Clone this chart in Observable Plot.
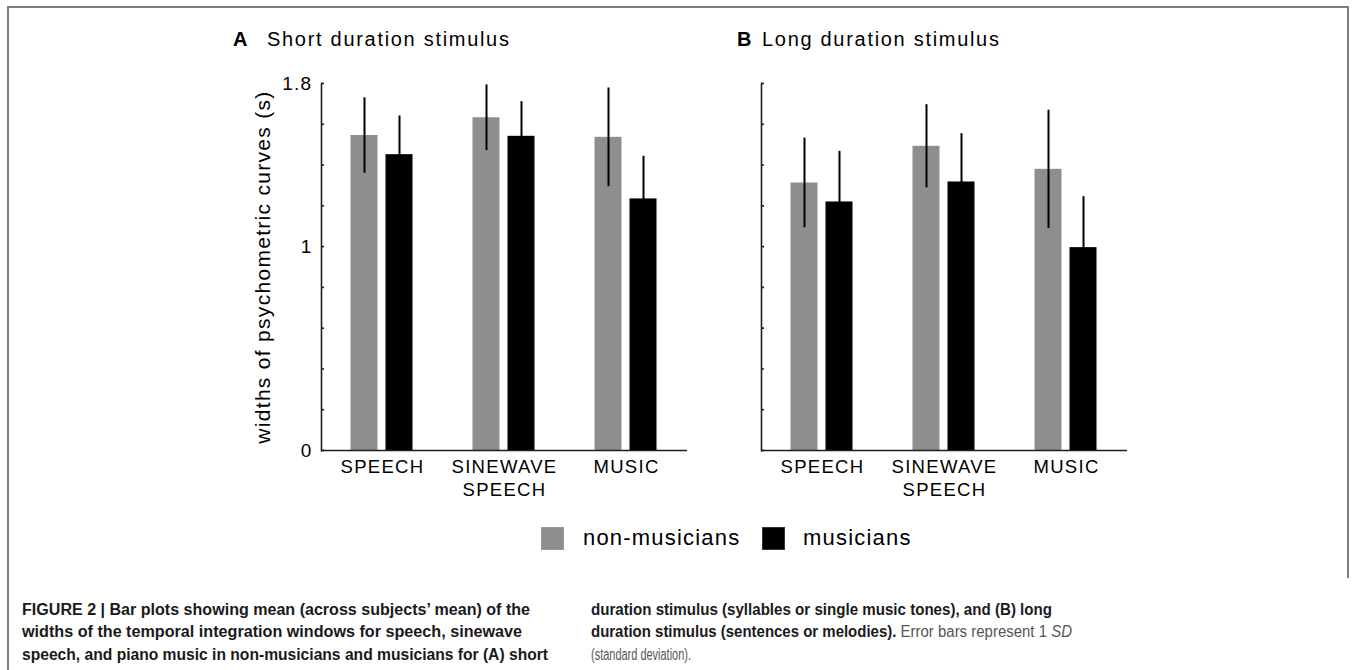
<!DOCTYPE html>
<html>
<head>
<meta charset="utf-8">
<script src="https://cdn.jsdelivr.net/npm/d3@7"></script>
<script src="https://cdn.jsdelivr.net/npm/@observablehq/plot@0.6"></script>
<style>
  body { margin: 0; background: #fff; }
  #page { position: relative; width: 1355px; height: 670px; overflow: hidden; background: #fff;
          font-family: "Liberation Sans", Arial, Helvetica, sans-serif; color: #000; }
  .abs { position: absolute; white-space: nowrap; line-height: 1; }
  .title { font-size: 20px; letter-spacing: 1.7px; }
  .title b { letter-spacing: 0; }
  .legtxt { font-size: 22px; letter-spacing: 1.2px; }
  .sw { position: absolute; width: 23px; height: 23px; box-sizing: border-box; }
  .cap { position: absolute; white-space: nowrap; font-family: "Liberation Sans Narrow", "Liberation Sans", Arial, sans-serif;
         font-size: 16px; line-height: 1; color: #1a1a1a; transform-origin: 0 0; }
  .cap b { font-weight: bold; }
  .cap .n { font-weight: normal; color: #555; }
  .border { position: absolute; background: #7d7d7d; }
</style>
</head>
<body>
<div id="page">
  <div class="border" style="left:7px;top:6px;width:1342px;height:2px"></div>
  <div class="border" style="left:7px;top:6px;width:2px;height:664px"></div>
  <div class="border" style="left:1347px;top:6px;width:2px;height:572px"></div>

  <div class="abs title" style="left:233px;top:29px"><b>A</b></div>
  <div class="abs title" style="left:267px;top:29px">Short duration stimulus</div>
  <div class="abs title" style="left:737px;top:29px"><b>B</b></div>
  <div class="abs title" style="left:762px;top:29px">Long duration stimulus</div>

  <div id="panelA" style="position:absolute;left:0;top:0"></div>
  <div id="panelB" style="position:absolute;left:440px;top:0"></div>

  <div id="legend"></div>

  <div class="cap" data-w="508" style="left:22px;top:602px"><b>FIGURE 2 | Bar plots showing mean (across subjects’ mean) of the</b></div>
  <div class="cap" data-w="500" style="left:22px;top:624px"><b>widths of the temporal integration windows for speech, sinewave</b></div>
  <div class="cap" data-w="526" style="left:22px;top:647px"><b>speech, and piano music in non-musicians and musicians for (A) short</b></div>
  <div class="cap" data-w="461" style="left:591px;top:602px"><b>duration stimulus (syllables or single music tones), and (B) long</b></div>
  <div class="cap" data-w="481" style="left:591px;top:624px"><b>duration stimulus (sentences or melodies).</b><span class="n"> Error bars represent 1 <i>SD</i></span></div>
  <div class="cap" data-w="100" style="left:591px;top:647px"><span class="n">(standard deviation).</span></div>
</div>
<script>
// ---- data ----
const categories = ["SPEECH", "SINEWAVE\nSPEECH", "MUSIC"];
const groups = ["non-musicians", "musicians"];
const groupColors = ["#8e8e8e", "#000000"];

// A: short duration stimulus
const shortNonMean = [1.545, 1.632, 1.536];
const shortNonSD   = [0.185, 0.161, 0.242];
const shortMusMean = [1.451, 1.541, 1.234];
const shortMusSD   = [0.190, 0.170, 0.209];

// B: long duration stimulus
const longNonMean = [1.312, 1.492, 1.379];
const longNonSD   = [0.220, 0.204, 0.290];
const longMusMean = [1.219, 1.317, 0.995];
const longMusSD   = [0.248, 0.237, 0.250];

const yDomain = [0, 1.8];
const yTicks = [0, 0.2, 0.4, 0.6, 0.8, 1, 1.2, 1.4, 1.6, 1.8];
const yTickLabels = [0, 1, 1.8];
const yLabel = "widths of psychometric curves (s)";

function rowsFor(nonMean, nonSD, musMean, musSD) {
  return categories.flatMap((c, i) => [
    {category: c, group: groups[0], mean: nonMean[i], sd: nonSD[i]},
    {category: c, group: groups[1], mean: musMean[i], sd: musSD[i]}
  ]);
}

function panel(rows, withLabels) {
  const marks = [
    Plot.barY(rows, {fx: "category", x: "group", y: "mean", fill: "group"}),
    Plot.ruleX(rows, {fx: "category", x: "group", y1: d => d.mean - d.sd, y2: d => d.mean + d.sd, stroke: "#000", strokeWidth: 2}),
    Plot.ruleY([0], {stroke: "#1e1e1e", strokeWidth: 1.6}),
    Plot.frame({anchor: "left", facetAnchor: "left", stroke: "#1e1e1e", strokeWidth: 1.6}),
    Plot.axisY(yTicks, {anchor: "left", tickSize: 3, dx: 3, tickPadding: 9, fontSize: 19, letterSpacing: 1,
      stroke: "#1e1e1e", strokeWidth: 1.6,
      tickFormat: d => (withLabels && yTickLabels.includes(d)) ? String(d) : "", label: null}),
    Plot.axisFx({anchor: "bottom", tickSize: 0, tickPadding: 6, fontSize: 18.5, lineHeight: 1.25, label: null})
  ];
  if (withLabels) {
    marks.push(Plot.text([yLabel], {text: d => d, frameAnchor: "left", facetAnchor: "left", textAnchor: "middle",
      rotate: -90, dx: -58, fontSize: 21, letterSpacing: 1.5}));
  }
  return Plot.plot({
    width: 700, height: 530,
    marginLeft: 320.5, marginRight: 12, marginTop: 83, marginBottom: 80,
    style: {fontFamily: "'Liberation Sans', Arial, Helvetica, sans-serif", fontSize: "18.5px", letterSpacing: "1.3px", color: "#000", background: "transparent", overflow: "visible"},
    fx: {domain: categories, paddingInner: 0, paddingOuter: 0, axis: null, label: null},
    x: {domain: groups, paddingInner: 0.22, paddingOuter: 0.83, axis: null},
    y: {domain: yDomain, axis: null},
    color: {domain: groups, range: groupColors},
    marks
  });
}

document.getElementById("panelA").append(panel(rowsFor(shortNonMean, shortNonSD, shortMusMean, shortMusSD), true));
document.getElementById("panelB").append(panel(rowsFor(longNonMean, longNonSD, longMusMean, longMusSD), false));

// legend
const legend = document.getElementById("legend");
const legPos = [{sx: 541, tx: 583}, {sx: 762, tx: 803}];
groups.forEach((g, i) => {
  const sw = document.createElement("div");
  sw.className = "sw";
  sw.style.left = legPos[i].sx + "px"; sw.style.top = "527px";
  sw.style.background = groupColors[i];
  sw.style.border = "1px solid " + (i ? "#333" : "#9a9a9a");
  legend.append(sw);
  const t = document.createElement("div");
  t.className = "abs legtxt";
  t.style.left = legPos[i].tx + "px"; t.style.top = "527px";
  t.textContent = g;
  legend.append(t);
});

// fit caption lines to their measured widths
document.querySelectorAll(".cap").forEach(el => {
  const target = +el.dataset.w;
  const w = el.getBoundingClientRect().width;
  if (w > 0 && target > 0) el.style.transform = `scaleX(${target / w})`;
});
</script>
</body>
</html>
